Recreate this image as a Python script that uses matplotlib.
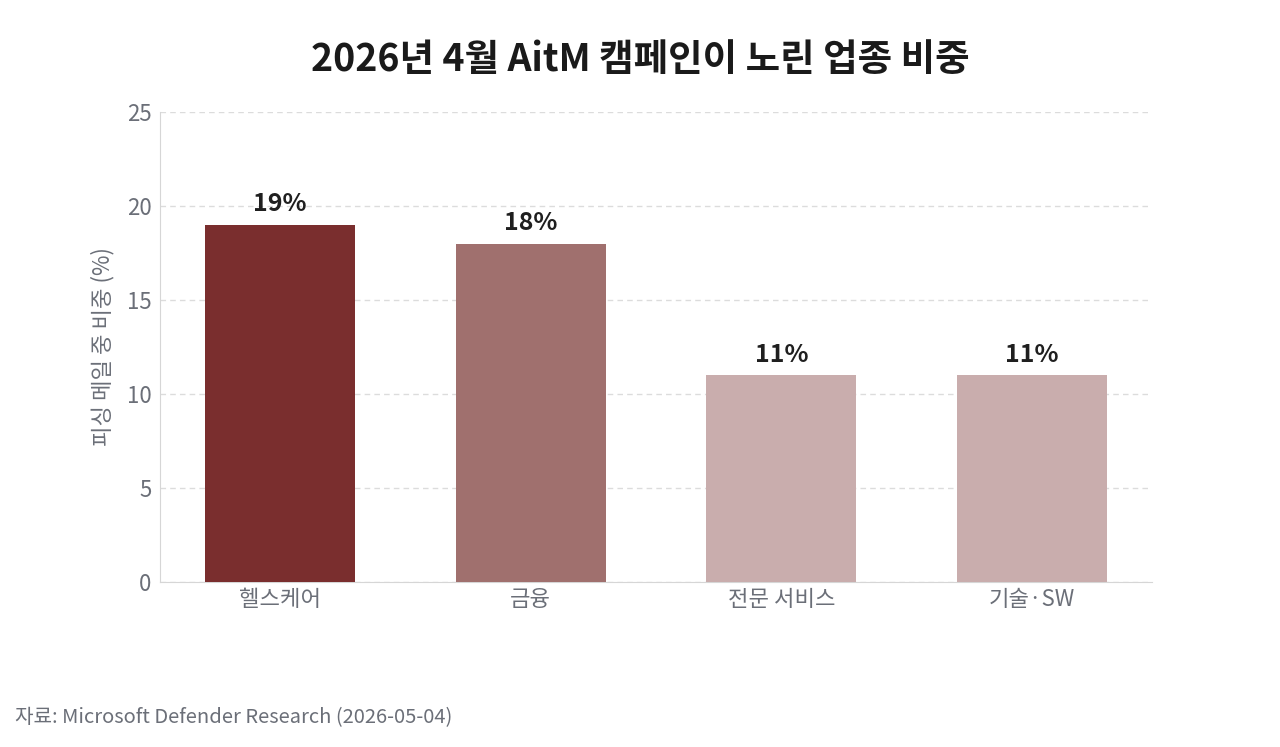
import matplotlib
matplotlib.use("Agg")
import matplotlib.pyplot as plt

plt.rcParams['font.family'] = ['Noto Sans CJK KR', 'DejaVu Sans']

categories = ['헬스케어', '금융', '전문 서비스', '기술·SW']
shares = [19, 18, 11, 11]
bar_colors = ['#7a2e2e', '#a0706e', '#c9adad', '#c9adad']
yticks = [0, 5, 10, 15, 20, 25]

fig = plt.figure(figsize=(12.8, 7.47), dpi=100)
ax = fig.add_axes([0.125, 0.2209, 0.775, 0.6291])

x = list(range(len(categories)))
ax.bar(x, shares, width=0.6, color=bar_colors, zorder=3)
for xi, v in zip(x, shares):
    ax.text(xi, v + 0.45, f'{v}%', ha='center', va='bottom', fontsize=18,
            fontweight='bold', color='#1f1f1f')

ax.set_xlim(-0.48, 3.48)
ax.set_ylim(0, 25)
ax.set_yticks(yticks)
ax.set_xticks(x)
ax.set_xticklabels(categories)
ax.tick_params(axis='both', length=0, labelsize=16, colors='#6b6f78')
ax.tick_params(axis='x', pad=4)
ax.tick_params(axis='y', pad=6)
ax.yaxis.grid(True, linestyle=(0, (4, 3)), color='#dcdcdc', linewidth=1, zorder=0)
for s in ['top', 'right']:
    ax.spines[s].set_visible(False)
for s in ['left', 'bottom']:
    ax.spines[s].set_color('#d6d6d6')
ax.set_ylabel('피싱 메일 중 비중 (%)', fontsize=16, color='#6b6f78', labelpad=9)

fig.text(0.5, 0.92, '2026년 4월 AitM 캠페인이 노린 업종 비중', ha='center', va='center',
         fontsize=27, fontweight='bold', color='#1a1a1a')
fig.text(0.012, 0.039, '자료: Microsoft Defender Research (2026-05-04)', ha='left', va='center',
         fontsize=14.5, color='#6b6f78')

fig.savefig('out.png', dpi=100)
